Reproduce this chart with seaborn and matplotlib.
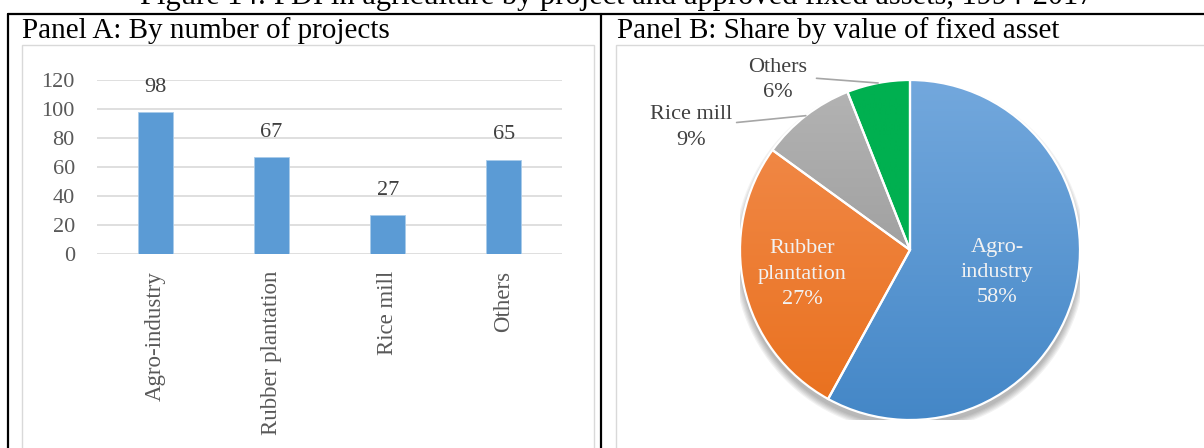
import numpy as np
import matplotlib
matplotlib.use("Agg")
import matplotlib.pyplot as plt
from matplotlib.lines import Line2D
from matplotlib.patches import Rectangle, Circle
from matplotlib.colors import LinearSegmentedColormap
import pandas as pd
import seaborn as sns

# Panel A: number of FDI projects by sub-sector
categories = ["Agro-industry", "Rubber plantation", "Rice mill", "Others"]
project_counts = [98, 67, 27, 65]
y_ticks = [0, 20, 40, 60, 80, 100, 120]

# Panel B: share of approved fixed assets (%)
share_names = ["Agro-\nindustry", "Rubber\nplantation", "Rice mill", "Others"]
asset_shares = [58, 27, 9, 6]

title = "Figure 14: FDI in agriculture by project and approved fixed assets, 1994-2017"
panel_a_title = "Panel A: By number of projects"
panel_b_title = "Panel B: Share by value of fixed asset"

W, H = 1204, 448
sns.set_theme(style="white")
plt.rcParams["font.family"] = ["Liberation Serif", "DejaVu Serif"]

fig = plt.figure(figsize=(W / 100, H / 100), dpi=100)
fig.patch.set_facecolor("white")


def fx(px):
    return px / W


def fy(py):
    return 1 - py / H


def box(left, top, right, bottom):
    return [fx(left), fy(bottom), (right - left) / W, (bottom - top) / H]


# ---- table rules around the two panels
for x in (8, 601):
    fig.add_artist(Line2D([fx(x)] * 2, [fy(14), 0], color="black", lw=1.6))
fig.add_artist(Line2D([fx(8), 1], [fy(14)] * 2, color="black", lw=1.6))

# light chart-area frames
for left, right in ((22, 594), (616, 1215)):
    fig.add_artist(Rectangle((fx(left), fy(470)), (right - left) / W, 425 / H,
                             transform=fig.transFigure, fill=False,
                             edgecolor="#D9D9D9", lw=1.0))

# ---- headings
fig.text(fx(617), fy(4), title, ha="center", va="baseline", fontsize=22, color="black")
fig.text(fx(22), fy(38), panel_a_title, ha="left", va="baseline", fontsize=21, color="black")
fig.text(fx(617), fy(38), panel_b_title, ha="left", va="baseline", fontsize=21, color="black")

# ---- Panel A: bar chart
ax = fig.add_axes(box(97, 80, 562, 254))
df = pd.DataFrame({"category": categories, "projects": project_counts})
sns.barplot(data=df, x="category", y="projects", color="#5B9BD5", saturation=1,
            width=0.3, edgecolor="#A9CBEA", linewidth=0.6, ax=ax)
ax.set_ylim(0, 120)
ax.set_yticks(y_ticks)
ax.yaxis.grid(True, color="#D9D9D9", lw=1.2)
ax.xaxis.grid(False)
ax.set_axisbelow(True)
for s in ax.spines.values():
    s.set_visible(False)
ax.set_facecolor("none")
ax.set_xlabel("")
ax.set_ylabel("")
ax.tick_params(axis="y", length=0, pad=16, labelsize=16, labelcolor="#595959")
ax.tick_params(axis="x", length=0, pad=12, labelsize=16.5, labelcolor="#595959",
               labelrotation=90)
ax.bar_label(ax.containers[0], padding=11, fontsize=16, color="#404040")

# ---- Panel B: pie chart
pax = fig.add_axes(box(740, 80, 1080, 420))
pax.set_facecolor("none")

# soft drop shadow under the pie
for k in range(6):
    pax.add_patch(Circle((0.0, -0.035), 1.0 + 0.007 * k, color="black",
                         alpha=0.05, lw=0, zorder=1))

wedges, _ = pax.pie(asset_shares, startangle=90, counterclock=False, radius=1,
                    colors=["none"] * 4,
                    wedgeprops=dict(edgecolor="white", linewidth=1.6, zorder=4))

tops = ["#73A8DD", "#F28D4F", "#B4B4B4", "#00B050"]
bottoms = ["#4487C7", "#E9701D", "#8E8E8E", "#00B050"]
grad = np.linspace(0, 1, 256).reshape(-1, 1)
for w, c0, c1 in zip(wedges, tops, bottoms):
    cmap = LinearSegmentedColormap.from_list("g", [c0, c1])
    im = pax.imshow(grad, cmap=cmap, extent=(-1, 1, -1, 1), origin="upper",
                    aspect="auto", zorder=3, interpolation="bilinear")
    im.set_clip_path(w)

pax.set_xlim(-1, 1)
pax.set_ylim(-1, 1)
pax.set_aspect("equal")
pax.axis("off")

cum = np.cumsum([0] + asset_shares)
mid = np.deg2rad(90 - 3.6 * (cum[:-1] + np.array(asset_shares) / 2))

# labels inside the two large slices
for i, r in ((0, 0.53), (1, 0.65)):
    pax.text(r * np.cos(mid[i]), r * np.sin(mid[i]),
             f"{share_names[i]}\n{asset_shares[i]}%", ha="center", va="center",
             fontsize=16, color="#F2F2F2", linespacing=1.45, zorder=6)

# outside labels with leader lines for the small slices
outside = {2: ((-1.29, 0.72), (-1.02, 0.75)), 3: ((-0.78, 1.0), (-0.55, 1.01))}
for i, ((tx, ty), (lx, ly)) in outside.items():
    ex, ey = np.cos(mid[i]), np.sin(mid[i])
    pax.plot([ex, lx], [ey, ly], color="#A6A6A6", lw=1.2, clip_on=False, zorder=5)
    pax.text(tx, ty, f"{share_names[i]}\n{asset_shares[i]}%", ha="center", va="center",
             fontsize=16, color="#404040", linespacing=1.45, clip_on=False, zorder=6)

fig.savefig("out.png", dpi=100)
